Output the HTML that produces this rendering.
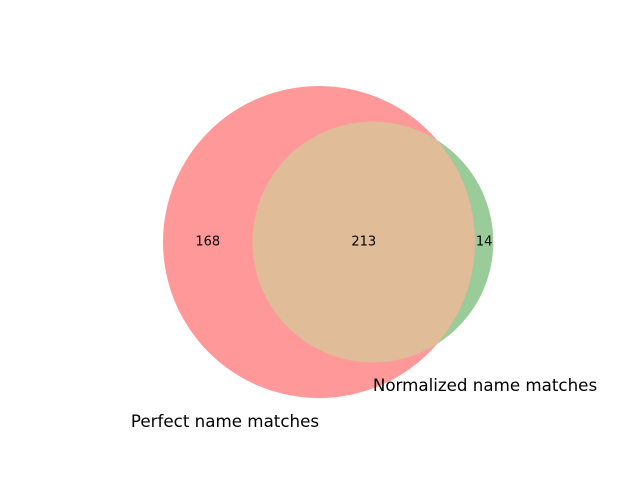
<!DOCTYPE html>
<html><head><meta charset="utf-8"><style>
body{margin:0;background:#fff;}
svg text{font-family:"DejaVu Sans","Liberation Sans",sans-serif;}
</style></head><body>
<svg id="venn" width="640" height="480" viewBox="0 0 640 480">
<defs><clipPath id="clipB"><circle id="clipCircle" cx="0" cy="0" r="0"/></clipPath></defs>
<g id="marks"></g>
</svg>
<script>
const setNames = ["Perfect name matches", "Normalized name matches"];
const regionLabels = ["A only", "B only", "A and B"];
const regionValues = [168, 14, 213];

const svg = document.getElementById('venn');
const g = document.getElementById('marks');
const NS = 'http://www.w3.org/2000/svg';
const totalA = regionValues[0] + regionValues[2];
const totalB = regionValues[1] + regionValues[2];
const k = 156 / Math.sqrt(381);
const rA = k * Math.sqrt(totalA);
const rB = k * Math.sqrt(totalB);
const cy = 242;
const cxA = 319;
const cxB = cxA + 54 * (rA + rB) / 277;

function circle(cx, r, fill, name) {
  const c = document.createElementNS(NS, 'circle');
  c.setAttribute('cx', cx); c.setAttribute('cy', cy); c.setAttribute('r', r);
  c.setAttribute('fill', fill);
  
  
  g.appendChild(c);
  return c;
}
circle(cxB, rB, '#99cc99', 'circle-normalized');
circle(cxA, rA, '#ff9999', 'circle-perfect');
const cc = document.getElementById('clipCircle');
cc.setAttribute('cx', cxB); cc.setAttribute('cy', cy); cc.setAttribute('r', rB);
const inter = circle(cxA, rA, '#e0bc98', 'intersection-region');
inter.setAttribute('clip-path', 'url(#clipB)');

function text(x, y, s, size, anchor, name) {
  const t = document.createElementNS(NS, 'text');
  t.setAttribute('x', x); t.setAttribute('y', y);
  t.setAttribute('font-size', size);
  t.setAttribute('text-anchor', anchor);
  t.setAttribute('dominant-baseline', 'central');
  t.textContent = s;
  
  
  svg.appendChild(t);
}
const leftA = cxA - rA, leftB = cxB - rB, rightA = cxA + rA, rightB = cxB + rB;
text((leftA + leftB) / 2, cy, regionValues[0], 13, 'middle', 'label-perfect-only');
text((rightA + rightB) / 2, cy, regionValues[1], 13, 'middle', 'label-normalized-only');
text((leftB + rightA) / 2, cy, regionValues[2], 13, 'middle', 'label-intersection');
text(225, 421, setNames[0], 16.7, 'middle', 'set-label-perfect');
text(485, 385, setNames[1], 16.7, 'middle', 'set-label-normalized');
</script>
</body></html>
